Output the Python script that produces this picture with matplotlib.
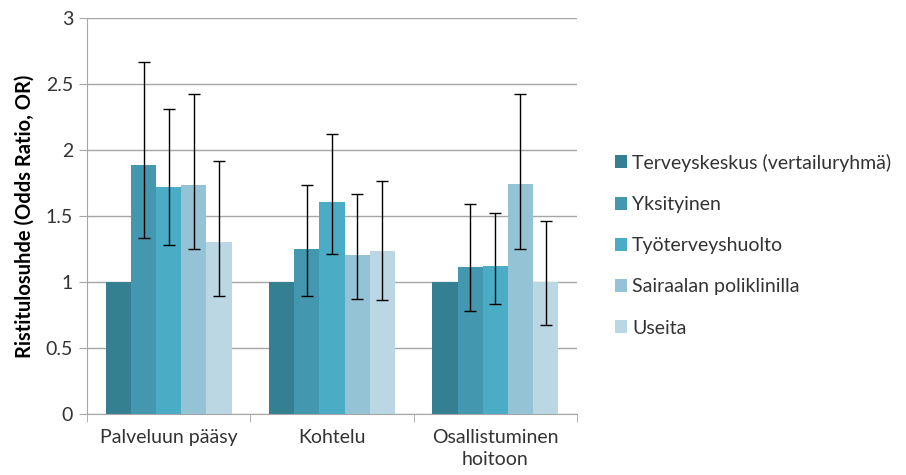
import matplotlib
matplotlib.use("Agg")
import matplotlib.pyplot as plt
import numpy as np

plt.rcParams['font.family'] = ['Lato', 'DejaVu Sans']

categories = ["Palveluun pääsy", "Kohtelu", "Osallistuminen\nhoitoon"]
series = ["Terveyskeskus (vertailuryhmä)", "Yksityinen", "Työterveyshuolto",
          "Sairaalan poliklinilla", "Useita"]
colors = ["#357F93", "#4397AE", "#4BACC6", "#93C3D5", "#BAD7E3"]

terveyskeskus = [1.0, 1.0, 1.0]
yksityinen = [1.89, 1.247, 1.111]
tyoterveys = [1.717, 1.604, 1.119]
sairaala = [1.737, 1.207, 1.745]
useita = [1.303, 1.235, 1.0]

yksityinen_lo = [1.336, 0.896, 0.78]
yksityinen_hi = [2.667, 1.735, 1.588]
tyoterveys_lo = [1.28, 1.212, 0.836]
tyoterveys_hi = [2.31, 2.119, 1.52]
sairaala_lo = [1.25, 0.874, 1.25]
sairaala_hi = [2.426, 1.667, 2.424]
useita_lo = [0.894, 0.864, 0.672]
useita_hi = [1.917, 1.763, 1.462]

values = [terveyskeskus, yksityinen, tyoterveys, sairaala, useita]
lows = [None, yksityinen_lo, tyoterveys_lo, sairaala_lo, useita_lo]
highs = [None, yksityinen_hi, tyoterveys_hi, sairaala_hi, useita_hi]

fig = plt.figure(figsize=(9.06, 4.75), dpi=100)
ax = fig.add_axes([87/906, 1-414/475, (577-87)/906, (414-18)/475])

x = np.arange(len(categories))
w = 0.154
for i, (vals, col) in enumerate(zip(values, colors)):
    pos = x + (i - 2) * w
    ax.bar(pos, vals, width=w, color=col, label=series[i], zorder=2)
for i in range(1, 5):
    pos = x + (i - 2) * w
    v = np.array(values[i])
    lo = v - np.array(lows[i])
    hi = np.array(highs[i]) - v
    ax.errorbar(pos, v, yerr=[lo, hi], fmt='none', ecolor='black',
                elinewidth=1, capsize=4.3, capthick=1, zorder=3)

ax.set_xlim(-0.5, 2.5)
ax.set_ylim(0, 3)
ax.set_yticks([0, 0.5, 1, 1.5, 2, 2.5, 3])
ax.set_yticklabels(["0", "0.5", "1", "1.5", "2", "2.5", "3"])
ax.yaxis.grid(True, color="#A6A6A6", linewidth=1, zorder=0)
ax.set_axisbelow(True)
ax.tick_params(axis='y', length=6, color="#A6A6A6", labelsize=14, labelcolor="#333333", pad=4)
ax.set_xticks(x)
ax.set_xticklabels(categories, fontsize=14, color="#333333", linespacing=1.35)
ax.set_xticks([-0.5, 0.5, 1.5, 2.5], minor=True)
ax.tick_params(axis='x', which='major', length=0, pad=11)
ax.tick_params(axis='x', which='minor', length=6, color="#A6A6A6")
for s in ["top", "right"]:
    ax.spines[s].set_visible(False)
for s in ["left", "bottom"]:
    ax.spines[s].set_color("#A6A6A6")
ax.set_ylabel("Ristitulosuhde (Odds Ratio, OR)", fontsize=14.5, fontweight='bold', labelpad=8)

fig.legend(loc='upper left', bbox_to_anchor=(597/906, 1-136/475), frameon=False,
           fontsize=14, handlelength=0.65, handleheight=0.65, handletextpad=0.25,
           labelspacing=1.25, labelcolor="#333333")

fig.savefig("out.png", dpi=100)
